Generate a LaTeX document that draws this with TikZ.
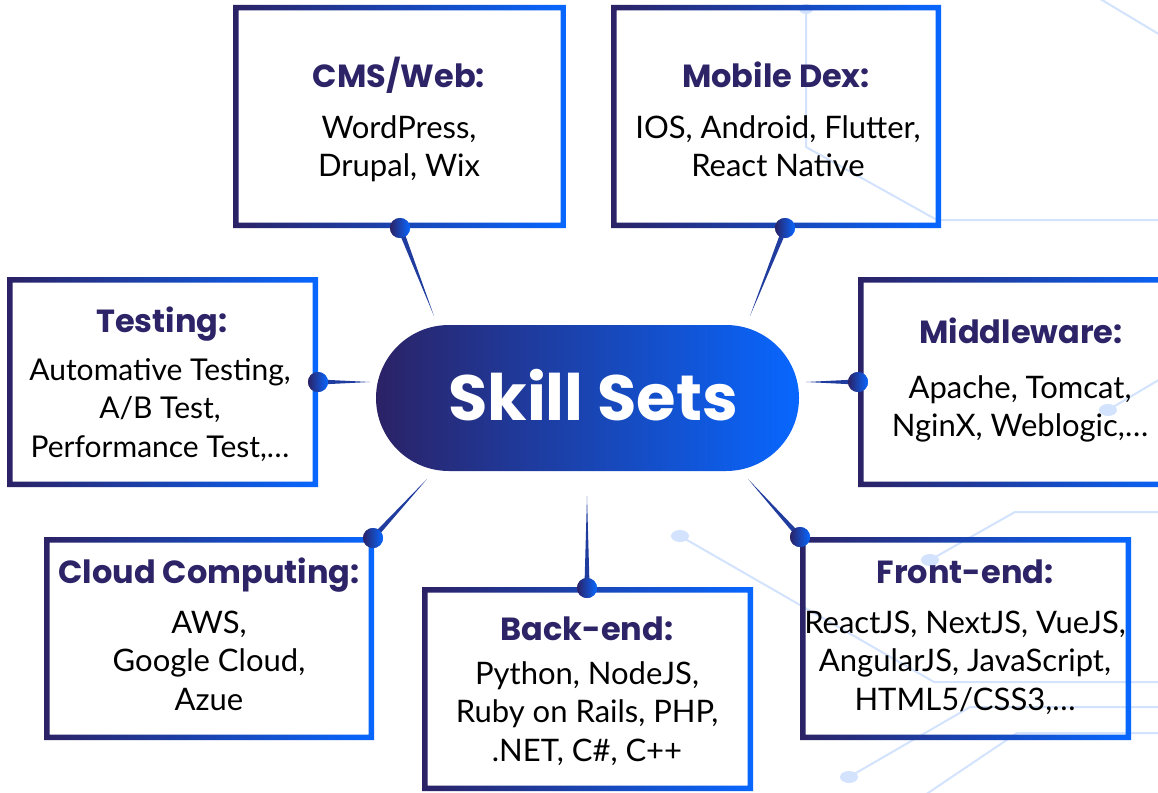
\documentclass[tikz,border=0pt]{standalone}
\usepackage{fontspec}
\setmainfont{Lato}
\newfontfamily\pop{Poppins}
\usetikzlibrary{calc}
\definecolor{navy}{HTML}{2B2266}
\definecolor{brite}{HTML}{0867FF}
\definecolor{ttlc}{HTML}{2D2468}
\definecolor{bgl}{HTML}{D3E3FD}
\definecolor{spk}{HTML}{1F3C9E}
\newcommand\lns[1]{\vtop{\baselineskip=38.5pt\halign{\hfil##\hfil\cr#1\crcr}}}
\newcommand\frameof[1]{\shade[frame] (#1.north west) rectangle (#1.south east) ($(#1.north west)+(5.5,5.5)$) rectangle ($(#1.south east)+(-5.5,-5.5)$);}
\newcommand\spike[2]{\fill[spk] ($(#1.center)!2.6pt!90:(#2)$) -- (#2) -- ($(#1.center)!2.6pt!-90:(#2)$) -- cycle;}
\begin{document}
\begin{tikzpicture}[x=1pt,y=-1pt,
  frame/.style={left color=navy,right color=brite,even odd rule},
  boxn/.style={rectangle,inner sep=0pt,outer sep=0pt},
  dotn/.style={circle,minimum size=20pt,inner sep=0pt,left color=navy,right color=brite},
  ttl/.style={anchor=base,text=ttlc,font=\pop\bfseries\fontsize{32}{36}\selectfont,inner sep=0pt},
  bdy/.style={anchor=base,text=black,font=\fontsize{31}{38}\selectfont,inner sep=0pt},
  bgline/.style={draw=bgl,line width=2pt},
  bgdot/.style={fill=bgl}]
\useasboundingbox (0,0) rectangle (1158,792);
\fill[white] (0,0) rectangle (1158,792);
% background circuit lines
\coordinate (g1) at (1097,-3); \coordinate (g2) at (1162,36);
\draw[bgline] (g1) -- (g2);
\coordinate (g3) at (806,9); \coordinate (g4) at (806,147); \coordinate (g5) at (937,220); \coordinate (g6) at (1162,220);
\draw[bgline] (g3) -- (g4) -- (g5) -- (g6);
\fill[bgdot] (g3) ellipse (7 and 5);
\coordinate (g7) at (1108,410); \coordinate (g8) at (1162,378);
\draw[bgline] (g7) -- (g8);
\fill[bgdot] (g7) ellipse (9 and 6);
\coordinate (h1) at (680,536); \coordinate (h2) at (934,682); \coordinate (h3) at (1162,682);
\draw[bgline] (h1) -- (h2) -- (h3);
\fill[bgdot] (h1) ellipse (9 and 6);
\coordinate (h4) at (930,560); \coordinate (h5) at (1015,512); \coordinate (h6) at (1162,512);
\draw[bgline] (h4) -- (h5) -- (h6);
\fill[bgdot] (h4) ellipse (9 and 6);
\coordinate (h7) at (849,777); \coordinate (h8) at (970,707); \coordinate (h9) at (1162,707);
\draw[bgline] (h7) -- (h8) -- (h9);
\fill[bgdot] (h7) ellipse (9 and 6);
\coordinate (k1) at (925,795); \coordinate (k2) at (1017,733); \coordinate (k3) at (1162,733);
\draw[bgline] (k1) -- (k2) -- (k3);
% boxes
\node[boxn,minimum width=333pt,minimum height=223pt] (cms) at (399.5,116.5) {};
\node[boxn,minimum width=330pt,minimum height=223pt] (mob) at (776,116.5) {};
\node[boxn,minimum width=311pt,minimum height=210pt] (tst) at (162.5,382) {};
\node[boxn,minimum width=327pt,minimum height=210pt] (mid) at (1021.5,382) {};
\node[boxn,minimum width=330pt,minimum height=203pt] (cld) at (209,638.5) {};
\node[boxn,minimum width=331pt,minimum height=204pt] (bck) at (587.5,689) {};
\node[boxn,minimum width=331pt,minimum height=203pt] (frt) at (965.5,638.5) {};
\frameof{cms}\frameof{mob}\frameof{tst}\frameof{mid}\frameof{cld}\frameof{bck}\frameof{frt}
% center pill
\node[rectangle,rounded corners=73pt,minimum width=423pt,minimum height=146pt,inner sep=0pt,left color=navy,right color=brite] (core) at (587.5,398) {};
\node[anchor=base,text=white,font=\pop\bfseries\fontsize{64}{64}\selectfont,inner sep=0pt] (coretxt) at (593,420) {Skill Sets};
% dots and spikes
\node[dotn] (dcms) at (400,228) {};
\node[dotn] (dmob) at (785,228) {};
\node[dotn] (dtst) at (318,382) {};
\node[dotn] (dmid) at (858,382) {};
\node[dotn] (dcld) at (373,538) {};
\node[dotn] (dbck) at (587,588) {};
\node[dotn] (dfrt) at (800,537) {};
\coordinate (tcms) at (434,316);
\coordinate (tmob) at (750,316);
\coordinate (ttst) at (370,382);
\coordinate (tmid) at (806,382);
\coordinate (tcld) at (427,479);
\coordinate (tbck) at (587,496);
\coordinate (tfrt) at (748,479);
\spike{dcms}{tcms}\spike{dmob}{tmob}\spike{dtst}{ttst}\spike{dmid}{tmid}
\spike{dcld}{tcld}\spike{dbck}{tbck}\spike{dfrt}{tfrt}
\node[dotn] at (dcms) {};
\node[dotn] at (dmob) {};
\node[dotn] at (dtst) {};
\node[dotn] at (dmid) {};
\node[dotn] at (dcld) {};
\node[dotn] at (dbck) {};
\node[dotn] at (dfrt) {};
% texts
\node[ttl] (cmsT) at (399,87) {CMS/Web:};
\node[bdy] (cmsB) at (399,138) {\lns{WordPress,\cr Drupal, Wix}};
\node[ttl] (mobT) at (776,87) {Mobile Dex:};
\node[bdy] (mobB) at (778,138) {\lns{IOS, Android, Flutter,\cr React Native}};
\node[ttl] (tstT) at (162,332) {Testing:};
\node[bdy,font=\fontsize{30}{38}\selectfont] (tstB) at (160,380) {\lns{Automative Testing,\cr A/B Test,\cr Performance Test,\dots}};
\node[ttl] (midT) at (1021,343) {Middleware:};
\node[bdy] (midB) at (1020,398) {\lns{Apache, Tomcat,\cr NginX, Weblogic,\dots}};
\node[ttl] (cldT) at (209,583) {Cloud Computing:};
\node[bdy] (cldB) at (209,633) {\lns{AWS,\cr Google Cloud,\cr Azue}};
\node[ttl] (bckT) at (587,640) {Back-end:};
\node[bdy] (bckB) at (587,684) {\lns{Python, NodeJS,\cr Ruby on Rails, PHP,\cr .NET, C\#, C++}};
\node[ttl] (frtT) at (965,583) {Front-end:};
\node[bdy] (frtB) at (965,633) {\lns{ReactJS, NextJS, VueJS,\cr AngularJS, JavaScript,\cr HTML5/CSS3,\dots}};
\end{tikzpicture}
\end{document}
